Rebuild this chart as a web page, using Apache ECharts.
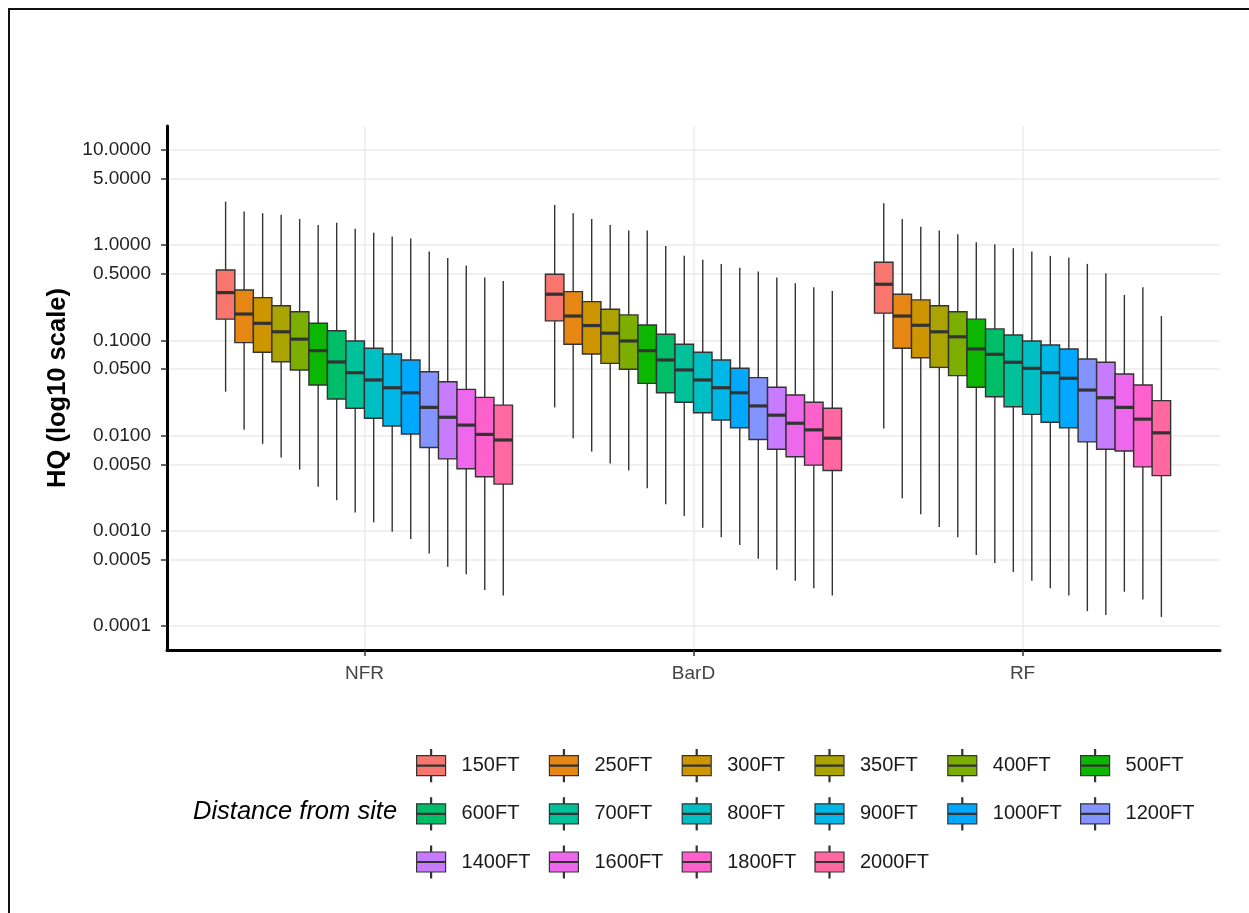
<!DOCTYPE html>
<html>
<head>
<meta charset="utf-8">
<title>HQ by distance from site</title>
<script src="https://cdn.jsdelivr.net/npm/echarts@6/dist/echarts.min.js"></script>
<style>
  html, body { margin: 0; padding: 0; background: #fff; }
  #main { width: 1249px; height: 913px; }
  #frame { position: absolute; left: 8px; top: 8px; width: 1241px; height: 905px;
    border-top: 2px solid #111; border-left: 2px solid #111; pointer-events: none; }
</style>
</head>
<body>
<div id="main"></div>
<div id="frame"></div>
<script>
const sites = ['NFR', 'BarD', 'RF']
const distances = ['150FT', '250FT', '300FT', '350FT', '400FT', '500FT', '600FT', '700FT',
  '800FT', '900FT', '1000FT', '1200FT', '1400FT', '1600FT', '1800FT', '2000FT']
const colors = ['#F8766D', '#E68613', '#CD9600', '#ABA300', '#7CAE00', '#0CB702', '#00BE67', '#00C19A',
  '#00BFC4', '#00B8E7', '#00A9FF', '#8494FF', '#C77CFF', '#ED68ED', '#FF61CC', '#FF68A1']
const yTicks = [10, 5, 1, 0.5, 0.1, 0.05, 0.01, 0.005, 0.001, 0.0005, 0.0001]

// [lower whisker, Q1, median, Q3, upper whisker], one row per distance
const nfr = [
  [0.0289, 0.167, 0.317, 0.548, 2.86],
  [0.0115, 0.0946, 0.189, 0.338, 2.25],
  [0.0082, 0.075, 0.151, 0.281, 2.16],
  [0.0059, 0.0597, 0.123, 0.231, 2.08],
  [0.0044, 0.0489, 0.103, 0.200, 1.88],
  [0.0029, 0.034, 0.078, 0.151, 1.63],
  [0.0021, 0.0242, 0.0593, 0.126, 1.72],
  [0.00156, 0.0194, 0.0458, 0.0986, 1.48],
  [0.00123, 0.0152, 0.0384, 0.0826, 1.35],
  [0.00098, 0.0126, 0.0318, 0.072, 1.23],
  [0.00082, 0.0104, 0.0282, 0.0622, 1.17],
  [0.00058, 0.0075, 0.0198, 0.0469, 0.855],
  [0.00042, 0.0057, 0.0156, 0.0368, 0.734],
  [0.00035, 0.0045, 0.0129, 0.0306, 0.61],
  [0.00024, 0.0037, 0.0103, 0.0252, 0.456],
  [0.00021, 0.0031, 0.009, 0.0209, 0.421]
]
const barD = [
  [0.0198, 0.160, 0.305, 0.494, 2.64],
  [0.0094, 0.091, 0.180, 0.325, 2.16],
  [0.0068, 0.072, 0.143, 0.255, 1.88],
  [0.0051, 0.0574, 0.119, 0.212, 1.63],
  [0.0043, 0.0497, 0.0986, 0.185, 1.42],
  [0.0028, 0.0354, 0.078, 0.145, 1.42],
  [0.0019, 0.0282, 0.0622, 0.116, 0.98],
  [0.00143, 0.0224, 0.0489, 0.091, 0.771],
  [0.00108, 0.0174, 0.0384, 0.075, 0.70],
  [0.00086, 0.0146, 0.0318, 0.0622, 0.635],
  [0.00071, 0.0121, 0.0282, 0.0509, 0.58],
  [0.00051, 0.0091, 0.0205, 0.0406, 0.527],
  [0.00039, 0.0072, 0.0164, 0.0322, 0.456],
  [0.0003, 0.006, 0.0135, 0.0267, 0.398],
  [0.00025, 0.0049, 0.0115, 0.0224, 0.361],
  [0.00021, 0.0043, 0.0094, 0.0194, 0.33]
]
const rf = [
  [0.0119, 0.193, 0.388, 0.661, 2.75],
  [0.0022, 0.0826, 0.180, 0.305, 1.88],
  [0.0015, 0.0658, 0.144, 0.266, 1.56],
  [0.0011, 0.0521, 0.123, 0.231, 1.42],
  [0.00086, 0.0426, 0.109, 0.200, 1.30],
  [0.00056, 0.0322, 0.0813, 0.167, 1.07],
  [0.00046, 0.0256, 0.0714, 0.132, 1.02],
  [0.00037, 0.0201, 0.0589, 0.114, 0.927],
  [0.0003, 0.0167, 0.0509, 0.0986, 0.855],
  [0.00025, 0.0138, 0.0458, 0.0895, 0.771],
  [0.00021, 0.0121, 0.040, 0.0813, 0.74],
  [0.000144, 0.0086, 0.0301, 0.0638, 0.635],
  [0.000131, 0.0072, 0.025, 0.0589, 0.507],
  [0.00023, 0.0069, 0.0198, 0.0444, 0.30],
  [0.00019, 0.0047, 0.0149, 0.034, 0.361],
  [0.000125, 0.0038, 0.0107, 0.0233, 0.18]
]
const siteStats = [nfr, barD, rf]

const fontFamily = '"Liberation Sans", Arial, sans-serif'
const dodgeWidth = 0.9
const legendCols = 6
const yTickPos = yTicks.map(v => Math.log10(v))
const legendIcon = 'path://M14 0L15 0L15 6L14 6Z M0 6L29 6L29 15.5L0 15.5Z M0 16.5L29 16.5L29 26L0 26Z M14 26L15 26L15 32L14 32Z'

// one box drawn from the five numbers, dodged inside its site
function renderBox (params, api, i) {
  const slot = dodgeWidth / distances.length
  const x = api.value(0) - dodgeWidth / 2 + slot * (i + 0.5)
  const w = api.size([slot, 0])[0]
  const low = api.coord([x, api.value(1)])
  const q1 = api.coord([x, api.value(2)])
  const med = api.coord([x, api.value(3)])
  const q3 = api.coord([x, api.value(4)])
  const high = api.coord([x, api.value(5)])
  const line = { stroke: '#333333', lineWidth: 1.4 }
  return {
    type: 'group',
    children: [
      { type: 'line', shape: { x1: high[0], y1: high[1], x2: q3[0], y2: q3[1] }, style: line },
      { type: 'line', shape: { x1: q1[0], y1: q1[1], x2: low[0], y2: low[1] }, style: line },
      { type: 'rect', shape: { x: q3[0] - w / 2, y: q3[1], width: w, height: q1[1] - q3[1] },
        style: { fill: api.visual('color'), stroke: '#333333', lineWidth: 1.4 } },
      { type: 'line', shape: { x1: med[0] - w / 2, y1: med[1], x2: med[0] + w / 2, y2: med[1] },
        style: { stroke: '#333333', lineWidth: 3.2 } }
    ]
  }
}

// ggplot lays the legend out in fixed columns, so one vertical legend per column
let legends = []
for (let c = 0; c < legendCols; c++) {
  legends.push({
    orient: 'vertical',
    left: 416 + c * 132.8,
    top: 749,
    padding: 0,
    itemWidth: 29,
    itemHeight: 32,
    itemGap: 15,
    icon: legendIcon,
    itemStyle: { borderColor: '#333333', borderWidth: 1.2 },
    textStyle: { fontSize: 20, color: '#1a1a1a', padding: [0, 0, 0, 11], fontFamily: fontFamily },
    data: distances.filter((d, i) => i % legendCols === c)
  })
}

let myChart = echarts.init(document.getElementById('main'))
let option = {
  animation: false,
  textStyle: { fontFamily: fontFamily },
  title: {
    text: 'Distance from site',
    left: 193,
    top: 799,
    padding: 0,
    textStyle: { fontSize: 25.5, fontStyle: 'italic', fontWeight: 'normal', color: '#000', fontFamily: fontFamily }
  },
  legend: legends,
  grid: { left: 167, right: 29, top: 126, bottom: 263 },
  xAxis: {
    type: 'value',
    min: 0.4,
    max: 3.6,
    axisLine: { show: true, onZero: false, lineStyle: { color: '#000', width: 3 } },
    axisTick: { show: true, length: 6, customValues: [1, 2, 3], lineStyle: { color: '#333', width: 1.5 } },
    axisLabel: {
      customValues: [1, 2, 3],
      formatter: v => sites[Math.round(v) - 1],
      fontSize: 19,
      color: '#444',
      margin: 14
    },
    splitLine: { show: true, lineStyle: { color: '#ebebeb', width: 1.5 } }
  },
  yAxis: {
    type: 'value',
    min: -4.25,
    max: 1.25,
    name: 'HQ (log10 scale)',
    nameLocation: 'middle',
    nameGap: 96,
    nameTextStyle: { fontSize: 25.5, fontWeight: 'bold', color: '#000' },
    axisLine: { show: true, onZero: false, lineStyle: { color: '#000', width: 3 } },
    axisTick: { show: true, length: 6, customValues: yTickPos, lineStyle: { color: '#333', width: 1.5 } },
    axisLabel: {
      customValues: yTickPos,
      formatter: v => Math.pow(10, v).toFixed(4),
      fontSize: 19,
      color: '#222',
      margin: 16
    },
    splitLine: { show: true, lineStyle: { color: '#ebebeb', width: 1.5 } }
  },
  series: distances.map((name, i) => ({
    name: name,
    type: 'custom',
    itemStyle: { color: colors[i] },
    encode: { x: 0, y: [1, 2, 3, 4, 5] },
    data: siteStats.map((stats, s) => [s + 1].concat(stats[i].map(v => Math.log10(v)))),
    renderItem: (params, api) => renderBox(params, api, i)
  }))
}
option && myChart.setOption(option)
</script>
</body>
</html>
